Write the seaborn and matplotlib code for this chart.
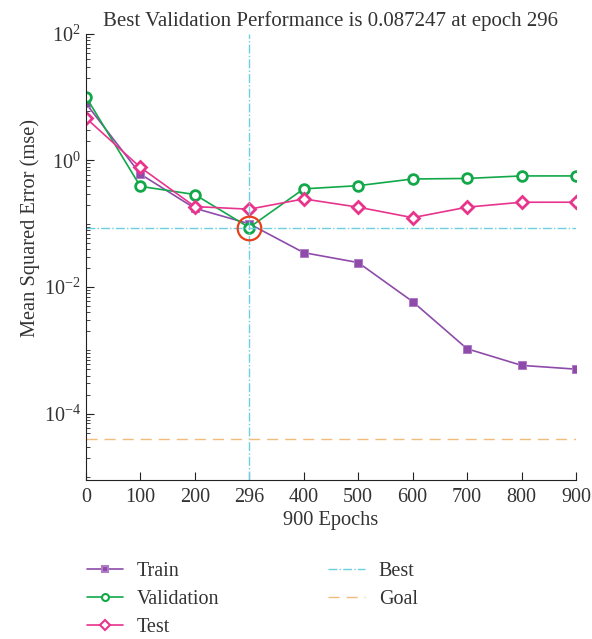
import numpy as np
import pandas as pd
import seaborn as sns
import matplotlib.pyplot as plt
from matplotlib.ticker import FixedLocator, NullFormatter

# data
epochs = ["0", "100", "200", "296", "400", "500", "600", "700", "800", "900"]
train = [8.0, 0.61, 0.176, 0.10, 0.035, 0.0244, 0.0059, 0.00106, 0.00058, 0.000505]
validation = [10.2, 0.39, 0.29, 0.087247, 0.356, 0.40, 0.51, 0.52, 0.57, 0.57]
test = [4.7, 0.78, 0.187, 0.17, 0.247, 0.183, 0.125, 0.183, 0.219, 0.219]
best_epoch = "296"
best_perf = 0.087247
goal = 4.0e-5

sns.set_style("ticks")
plt.rcParams['font.family'] = ['Liberation Serif', 'DejaVu Serif']
txt = "#333333"

df = pd.DataFrame({"idx": np.arange(len(epochs)), "Train": train,
                   "Validation": validation, "Test": test})

fig = plt.figure(figsize=(5.92, 6.39), dpi=100)
ax = fig.add_axes([0.145, 0.249, 0.828, 0.698])

sns.lineplot(data=df, x="idx", y="Train", ax=ax, color="#8E4BAA", lw=1.2,
             marker="s", markersize=6, markerfacecolor="#8E4BAA",
             markeredgecolor="#B07CC6", label="Train")
sns.lineplot(data=df, x="idx", y="Validation", ax=ax, color="#12A84A", lw=1.2,
             marker="o", markersize=7, markerfacecolor="white",
             markeredgecolor="#12A84A", markeredgewidth=2, label="Validation")
sns.lineplot(data=df, x="idx", y="Test", ax=ax, color="#E8348C", lw=1.2,
             marker="D", markersize=6, markerfacecolor="white",
             markeredgecolor="#E8348C", markeredgewidth=2, label="Test")

bi = epochs.index(best_epoch)
ax.axvline(bi, color="#6CCFE0", lw=1, ls="-.")
ax.axhline(best_perf, color="#6CCFE0", lw=1, ls="-.", label="Best")
ax.axhline(goal, color="#F4BC7C", lw=1, ls=(0, (8, 5)), label="Goal")
ax.plot([bi], [best_perf], marker="o", markersize=17, mfc="none",
        mec="#E8401C", mew=1.6, zorder=5)

ax.set_yscale("log")
ax.set_ylim(9.0e-6, 100)
ax.set_xlim(0, len(epochs) - 1)
ax.set_xticks(np.arange(len(epochs)))
ax.set_xticklabels(epochs)
ax.yaxis.set_major_locator(FixedLocator([1e-4, 1e-2, 1e0, 1e2]))
minors = [m * 10.0 ** e for e in range(-6, 2) for m in range(1, 10)]
ax.yaxis.set_minor_locator(FixedLocator(minors))
ax.yaxis.set_minor_formatter(NullFormatter())
ax.tick_params(direction="in", which="both", colors="#222222", labelcolor=txt,
               labelsize=14.5)
ax.tick_params(which="major", length=6)
ax.tick_params(which="minor", length=3)
ax.tick_params(axis="x", pad=6)

for s in ["top", "right"]:
    ax.spines[s].set_visible(False)
for s in ["left", "bottom"]:
    ax.spines[s].set_color("#222222")

ax.set_title("Best Validation Performance is 0.087247 at epoch 296",
             fontsize=15, color=txt, pad=6)
ax.set_xlabel("900 Epochs", fontsize=14.7, color=txt, labelpad=3)
ax.set_ylabel("Mean Squared Error (mse)", fontsize=14.7, color=txt)
ax.yaxis.set_label_coords(-0.094, 0.565)

h, l = ax.get_legend_handles_labels()
order = [l.index(n) for n in ["Train", "Validation", "Test", "Best", "Goal"]]
leg = ax.legend([h[i] for i in order], [l[i] for i in order], ncol=2,
                loc="upper left", bbox_to_anchor=(-0.035, -0.143), frameon=False,
                fontsize=14.5, handlelength=1.8, handletextpad=0.7,
                columnspacing=5.4, labelspacing=0.44, labelcolor=txt)
for line in leg.get_lines():
    line.set_markersize(5)
    line.set_markeredgewidth(1.5)

fig.savefig("out.png", dpi=100)
